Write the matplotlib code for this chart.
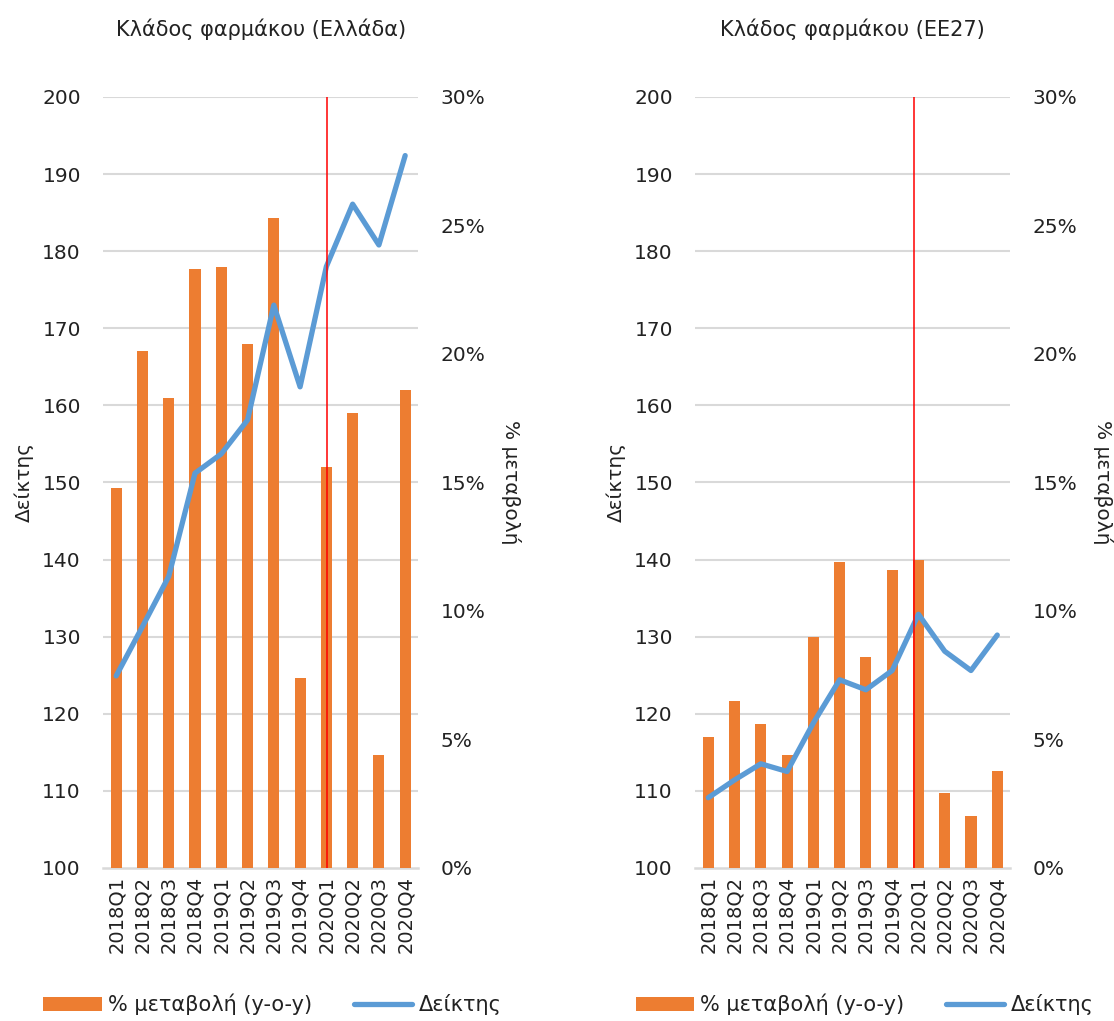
import matplotlib.pyplot as plt
import numpy as np
from matplotlib.ticker import FuncFormatter

plt.rcParams['font.family'] = ['DejaVu Sans']

quarters = ['2018Q1', '2018Q2', '2018Q3', '2018Q4',
            '2019Q1', '2019Q2', '2019Q3', '2019Q4',
            '2020Q1', '2020Q2', '2020Q3', '2020Q4']

# Ελλάδα
gr_pct = [14.8, 20.1, 18.3, 23.3, 23.4, 20.4, 25.3, 7.4, 15.6, 17.7, 4.4, 18.6]
gr_index = [124.9, 131.3, 137.8, 151.2, 153.7, 158.1, 173.0, 162.4, 178.0, 186.1, 180.8, 192.4]

# ΕΕ27
eu_pct = [5.1, 6.5, 5.6, 4.4, 9.0, 11.9, 8.2, 11.6, 12.0, 2.9, 2.0, 3.75]
eu_index = [109.1, 111.4, 113.5, 112.5, 118.8, 124.4, 123.1, 125.6, 132.9, 128.1, 125.6, 130.2]

titles = ['Κλάδος φαρμάκου (Ελλάδα)', 'Κλάδος φαρμάκου (ΕΕ27)']
ORANGE = '#ED7D31'
BLUE = '#5B9BD5'
GRID = '#D9D9D9'
TXT = '#222222'

fig = plt.figure(figsize=(11.14, 10.21), dpi=100)

panels = [(0.0925, gr_pct, gr_index, 8.02), (0.624, eu_pct, eu_index, 7.82)]
x = np.arange(len(quarters))

for i, (left, pct, idx, redx) in enumerate(panels):
    ax = fig.add_axes([left, 0.150, 0.283, 0.755])
    ax2 = ax.twinx()

    # bars on right axis (percent), line on left axis (index)
    ax2.bar(x, pct, width=0.42, color=ORANGE, zorder=2, label='% μεταβολή (y-o-y)')
    ax2.set_ylim(0, 30)
    ax2.set_yticks(np.arange(0, 31, 5))
    ax2.yaxis.set_major_formatter(FuncFormatter(lambda v, p: f'{v:.0f}%'))

    ax.set_ylim(100, 200)
    ax.set_yticks(np.arange(100, 201, 10))
    ax.set_xlim(-0.5, 11.5)
    ax.set_xticks(x)
    ax.set_xticklabels(quarters, rotation=90)
    for yv in np.arange(110, 201, 10):
        ax.axhline(yv, color=GRID, lw=1.5, zorder=0)

    # line drawn on a third layer above bars
    ax3 = ax.twinx()
    ax3.set_ylim(100, 200)
    ax3.plot(x, idx, color=BLUE, lw=3.8, solid_capstyle='round', label='Δείκτης', zorder=3)
    ax3.axvline(redx, color='red', lw=1.1, zorder=4)
    ax3.set_yticks([])
    for s in ax3.spines.values():
        s.set_visible(False)

    for a in (ax, ax2):
        for s in a.spines.values():
            s.set_visible(False)
        a.tick_params(length=0, labelsize=14.5, colors=TXT)
    ax.spines['bottom'].set_visible(True)
    ax.spines['bottom'].set_color(GRID)
    ax.spines['bottom'].set_linewidth(1.8)
    ax.tick_params(axis='y', pad=16)
    ax.tick_params(axis='x', pad=6, labelsize=14)
    ax2.tick_params(axis='y', pad=16)

    ax.set_ylabel('Δείκτης', fontsize=14.5, labelpad=6, color=TXT)
    ax2.set_ylabel('% μεταβολή', fontsize=14.5, rotation=270, va='bottom',
                   labelpad=11, color=TXT)
    ax.set_title(titles[i], fontsize=15, pad=44, color=TXT)

    h1, l1 = ax2.get_legend_handles_labels()
    h2, l2 = ax3.get_legend_handles_labels()
    fig.legend(h1 + h2, l1 + l2, ncol=2, frameon=False, fontsize=15,
               loc='center', bbox_to_anchor=(left + 0.152, 0.016),
               handlelength=2.8, columnspacing=2.0, handletextpad=0.3,
               labelcolor=TXT)

fig.savefig('out.png', dpi=100)
